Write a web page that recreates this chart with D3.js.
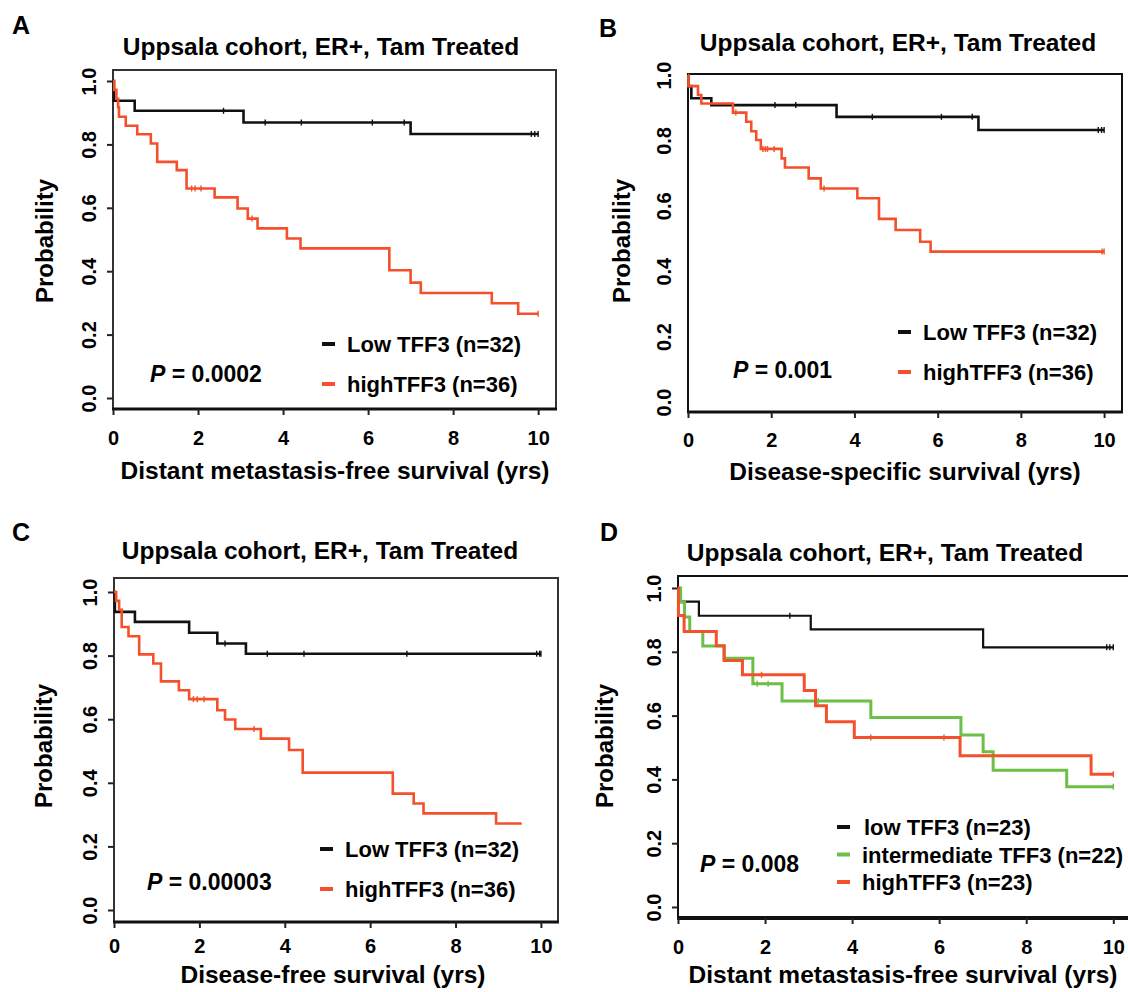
<!DOCTYPE html>
<html>
<head>
<meta charset="utf-8">
<script src="https://cdn.jsdelivr.net/npm/d3@7"></script>
<style>
  body { margin: 0; background: #fff; }
  svg text { font-family: "Liberation Sans", Arial, sans-serif; font-weight: bold; fill: #000; }
</style>
</head>
<body>
<svg id="chart" width="1128" height="992"></svg>
<script>
// Kaplan-Meier steps: [years, probability]
const aLow = [[0,1],[0.02,0.9375],[0.51,0.906],[3.07,0.869],[7.0,0.833],[10,0.833]];
const aLowCens = [2.6,3.58,4.43,6.1,6.85,9.84,9.92,10];
const aHigh = [[0,1],[0.03,0.972],[0.08,0.944],[0.12,0.917],[0.14,0.887],[0.3,0.859],[0.57,0.832],[0.89,0.803],[1.04,0.745],[1.5,0.719],[1.73,0.661],[2.39,0.633],[2.93,0.598],[3.17,0.566],[3.4,0.535],[4.09,0.503],[4.41,0.472],[6.5,0.403],[7.0,0.364],[7.24,0.331],[8.91,0.299],[9.53,0.266],[10,0.266]];
const aHighCens = [1.85,1.93,2.07,3.27,10];

const bLow = [[0,1],[0.01,0.966],[0.08,0.929],[0.56,0.908],[3.57,0.872],[6.98,0.832],[10,0.832]];
const bLowCens = [2.09,2.59,4.43,6.09,6.83,9.86,9.94,10];
const bHigh = [[0,1],[0.01,0.966],[0.24,0.939],[0.32,0.913],[1.08,0.885],[1.4,0.857],[1.52,0.828],[1.64,0.801],[1.75,0.774],[2.25,0.745],[2.33,0.717],[2.9,0.684],[3.19,0.653],[4.07,0.623],[4.59,0.56],[4.99,0.526],[5.58,0.49],[5.83,0.46],[10,0.46]];
const bHighCens = [1.15,1.8,1.86,1.91,2.07,3.27,9.95,10];

const cLow = [[0,1],[0.02,0.9375],[0.49,0.906],[1.76,0.872],[2.42,0.838],[3.09,0.806],[10,0.806]];
const cLowCens = [2.6,3.59,4.45,6.86,9.9,9.97,10];
const cHigh = [[0,1],[0.05,0.972],[0.12,0.944],[0.18,0.89],[0.34,0.861],[0.59,0.804],[0.92,0.775],[1.1,0.719],[1.52,0.691],[1.76,0.663],[2.42,0.628],[2.6,0.599],[2.84,0.569],[3.44,0.539],[4.1,0.503],[4.42,0.432],[6.53,0.366],[7.02,0.335],[7.25,0.304],[8.95,0.272],[9.55,0.272]];
const cHighCens = [1.86,1.95,2.11,3.28];

const dLow = [[0,1],[0.01,0.957],[0.48,0.913],[3.05,0.87],[7.01,0.814],[10,0.814]];
const dLowCens = [2.57,9.85,9.92,10];
const dInt = [[0,1],[0.06,0.955],[0.15,0.909],[0.27,0.864],[0.57,0.818],[1.06,0.78],[1.72,0.7],[2.39,0.646],[4.43,0.594],[6.5,0.539],[7.01,0.487],[7.24,0.429],[8.93,0.377],[10,0.377]];
const dIntCens = [1.82,2.07,3.22,10];
const dHigh = [[0,1],[0.01,0.914],[0.14,0.864],[0.88,0.819],[1.06,0.773],[1.48,0.728],[2.9,0.679],[3.16,0.631],[3.41,0.581],[4.05,0.531],[6.48,0.474],[9.49,0.416],[10,0.416]];
const dHighCens = [1.92,4.43,6.11,10];

const xTicks = [0, 2, 4, 6, 8, 10];
const yTicks = [0, 0.2, 0.4, 0.6, 0.8, 1.0];
const panelLetters = ['A', 'B', 'C', 'D'];
const panelTitle = 'Uppsala cohort, ER+, Tam Treated';
const xTitles = ['Distant metastasis-free survival (yrs)', 'Disease-specific survival (yrs)',
  'Disease-free survival (yrs)', 'Distant metastasis-free survival (yrs)'];
const pValues = ['0.0002', '0.001', '0.00003', '0.008'];
const legendTwo = ['Low TFF3 (n=32)', 'highTFF3 (n=36)'];
const legendThree = ['low TFF3 (n=23)', 'intermediate TFF3 (n=22)', 'highTFF3 (n=23)'];

const BLACK = '#111', RED = '#f4502b', GREEN = '#6cbf47';

const svg = d3.select('#chart');

const stepAt = (curve, t) => {
  const i = d3.bisector(d => d[0]).right(curve, t) - 1;
  return curve[Math.max(0, i)][1];
};

function drawPanel(p) {
  const g = svg.append('g');
  const x = d3.scaleLinear().domain([0, p.xMax]).range([p.left, p.right]);
  const y = d3.scaleLinear().domain([0, 1]).range([p.y0, p.y1]);

  // frame
  g.append('path')
    .attr('d', `M${p.left},${p.bottom}V${p.top}H${p.right}V${p.bottom}`)
    .attr('fill', 'none').attr('stroke', p.frameColor || '#333').attr('stroke-width', 2);
  g.append('line')
    .attr('x1', p.left - 1).attr('x2', p.right + 1).attr('y1', p.bottom).attr('y2', p.bottom)
    .attr('stroke', '#111').attr('stroke-width', p.bottomWidth || 3);

  // y axis
  const yAxis = g.append('g')
    .attr('transform', `translate(${p.left},0)`)
    .call(d3.axisLeft(y).tickValues(yTicks).tickSize(p.yTickSize).tickFormat(d3.format('.1f')));
  yAxis.select('.domain').remove();
  yAxis.selectAll('line').attr('stroke', '#222').attr('stroke-width', 2);
  yAxis.selectAll('text')
    .attr('x', null).attr('dy', null)
    .attr('text-anchor', 'middle')
    .attr('transform', 'translate(-17,0) rotate(-90)')
    .style('font-size', '20px');

  // x axis
  const xAxis = g.append('g')
    .attr('transform', `translate(0,${p.bottom})`)
    .call(d3.axisBottom(x).tickValues(xTicks).tickSize(6).tickFormat(d3.format('d')));
  xAxis.select('.domain').remove();
  xAxis.selectAll('line').attr('stroke', '#222').attr('stroke-width', 2);
  xAxis.selectAll('text')
    .attr('y', p.xLabelY - p.bottom).attr('dy', null)
    .style('font-size', '20px');

  // curves
  const line = d3.line().x(d => x(d[0])).y(d => y(d[1])).curve(d3.curveStepAfter);
  p.series.forEach(s => {
    g.append('path').datum(s.data)
      .attr('fill', 'none').attr('stroke', s.color).attr('stroke-width', s.width || 2.6)
      .attr('d', line);
    g.selectAll(null).data(s.cens).enter().append('line')
      .attr('x1', d => x(d)).attr('x2', d => x(d))
      .attr('y1', d => y(stepAt(s.data, d)) - 3)
      .attr('y2', d => y(stepAt(s.data, d)) + 3)
      .attr('stroke', s.color).attr('stroke-width', 1.4);
  });

  // legend
  p.series.forEach((s, i) => {
    const ly = p.legendY + i * p.legendGap;
    g.append('line')
      .attr('x1', p.legendX).attr('x2', p.legendX + 13)
      .attr('y1', ly - 8).attr('y2', ly - 8)
      .attr('stroke', s.color).attr('stroke-width', 4);
    g.append('text')
      .attr('x', p.legendX + 25 + (s.textShift || 0)).attr('y', ly)
      .style('font-size', '22px').text(s.label);
  });

  // p value
  const pt = g.append('text').attr('x', p.pX).attr('y', p.pY).style('font-size', '23px');
  pt.append('tspan').style('font-style', 'italic').text('P');
  pt.append('tspan').text(' = ' + p.pValue);

  // titles
  g.append('text').attr('x', p.letterX).attr('y', p.letterY)
    .style('font-size', '25px').text(p.letter);
  g.append('text').attr('x', p.titleX).attr('y', p.titleY)
    .attr('text-anchor', 'middle').style('font-size', '24.5px').text(panelTitle);
  g.append('text').attr('x', p.xTitleX).attr('y', p.xTitleY)
    .attr('text-anchor', 'middle').style('font-size', '24.5px').text(p.xTitle);
  g.append('text')
    .attr('transform', `translate(${p.yTitleX},${p.yTitleY}) rotate(-90)`)
    .attr('text-anchor', 'middle').style('font-size', '24px').text('Probability');
}

drawPanel({
  letter: panelLetters[0], letterX: 12, letterY: 34, titleX: 321, titleY: 55,
  left: 113, right: 556, top: 70, bottom: 409, xMax: 10.42, y0: 398, y1: 81,
  yTickSize: 6, xLabelY: 445, xTitle: xTitles[0], xTitleX: 335, xTitleY: 479,
  yTitleX: 53, yTitleY: 241, pValue: pValues[0], pX: 150, pY: 382,
  legendX: 322, legendY: 352, legendGap: 40,
  series: [
    { data: aLow, cens: aLowCens, color: BLACK, label: legendTwo[0] },
    { data: aHigh, cens: aHighCens, color: RED, label: legendTwo[1] }
  ]
});

drawPanel({
  letter: panelLetters[1], letterX: 599, letterY: 37, titleX: 898, titleY: 51,
  left: 688, right: 1122, top: 74, bottom: 412, xMax: 10.43, y0: 402, y1: 75,
  yTickSize: 0, frameColor: '#111', xLabelY: 447, xTitle: xTitles[1], xTitleX: 905, xTitleY: 480,
  yTitleX: 630, yTitleY: 241, pValue: pValues[1], pX: 733, pY: 378,
  legendX: 898, legendY: 340, legendGap: 40,
  series: [
    { data: bLow, cens: bLowCens, color: BLACK, label: legendTwo[0] },
    { data: bHigh, cens: bHighCens, color: RED, label: legendTwo[1] }
  ]
});

drawPanel({
  letter: panelLetters[2], letterX: 12, letterY: 541, titleX: 320, titleY: 559,
  left: 114, right: 558, top: 578, bottom: 922, xMax: 10.4, y0: 910, y1: 592,
  yTickSize: 6, xLabelY: 953, xTitle: xTitles[2], xTitleX: 333, xTitleY: 983,
  yTitleX: 52, yTitleY: 746, pValue: pValues[2], pX: 147, pY: 890,
  legendX: 320, legendY: 857, legendGap: 40,
  series: [
    { data: cLow, cens: cLowCens, color: BLACK, label: legendTwo[0] },
    { data: cHigh, cens: cHighCens, color: RED, label: legendTwo[1] }
  ]
});

drawPanel({
  letter: panelLetters[3], letterX: 600, letterY: 541, titleX: 885, titleY: 561,
  left: 678, right: 1132, top: 576, bottom: 918, xMax: 10.43, y0: 907, y1: 588,
  yTickSize: 6, frameColor: '#111', bottomWidth: 4, xLabelY: 954, xTitle: xTitles[3], xTitleX: 903, xTitleY: 983,
  yTitleX: 613, yTitleY: 746, pValue: pValues[3], pX: 700, pY: 872,
  legendX: 837, legendY: 835, legendGap: 27.5,
  series: [
    { data: dLow, cens: dLowCens, color: BLACK, width: 2.2, label: legendThree[0], textShift: 2 },
    { data: dInt, cens: dIntCens, color: GREEN, width: 3, label: legendThree[1] },
    { data: dHigh, cens: dHighCens, color: RED, width: 3, label: legendThree[2] }
  ]
});
</script>
</body>
</html>
